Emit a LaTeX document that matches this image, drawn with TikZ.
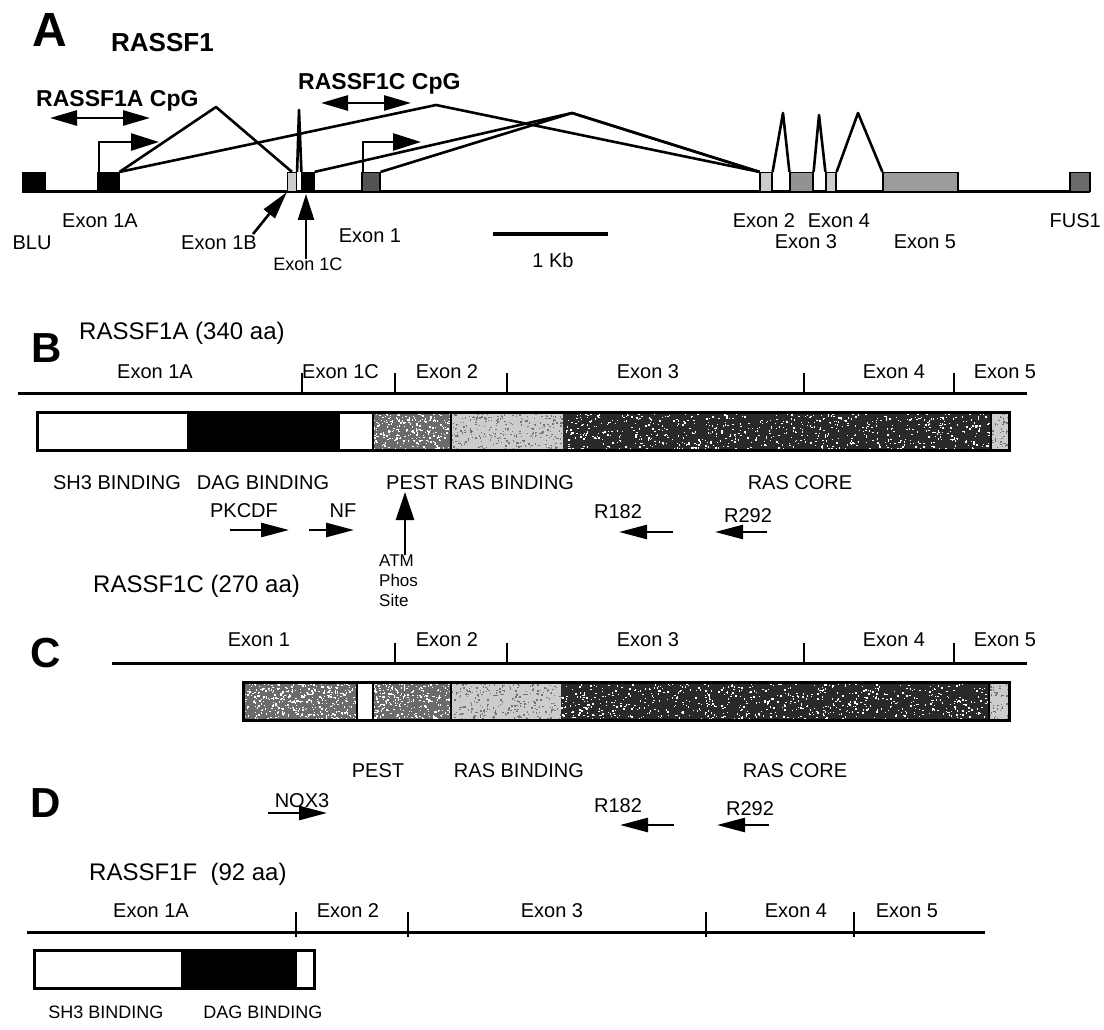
\documentclass[tikz,border=0pt]{standalone}
\usepackage{fontspec}
\setmainfont{Liberation Sans}
\usetikzlibrary{arrows.meta}
\definecolor{lightst}{gray}{0.80}
\definecolor{medst}{gray}{0.42}
\definecolor{darkst}{gray}{0.16}
\newcommand{\mystipple}[6]{%
  \pgfmathsetseed{#6}%
  \foreach \i in {1,...,#5} {%
    \pgfmathsetmacro{\sx}{#1+rnd*(#3-#1-1.4)}%
    \pgfmathsetmacro{\sy}{#2+rnd*(#4-#2-1.4)}%
    \fill[dotcol] (\sx,\sy) rectangle ++(1.4,1.4);%
  }}
\begin{document}
\begin{tikzpicture}[x=1pt,y=-1pt,
  lbl/.style={inner sep=0pt, anchor=base, font=\fontsize{20}{22}\selectfont},
  small/.style={inner sep=0pt, anchor=base, font=\fontsize{18}{20}\selectfont},
  ttl/.style={inner sep=0pt, anchor=base west, font=\fontsize{24}{26}\selectfont},
  biglet/.style={inner sep=0pt, anchor=base, font=\bfseries\fontsize{42}{42}\selectfont},
  cpg/.style={inner sep=0pt, anchor=base west, font=\bfseries\fontsize{23}{25}\selectfont},
  ebox/.style={draw, line width=1.2pt, inner sep=0pt, minimum height=19pt},
  gline/.style={line width=3pt},
  spl/.style={line width=2.6pt, line join=round},
  tickmark/.style={line width=2.4pt},
  barframe/.style={draw, line width=3pt},
  sep/.style={line width=2.2pt},
  fat/.style={line width=2.6pt, -{Triangle[length=28pt,width=14pt]}},
  prom/.style={line width=2.6pt, -{Triangle[length=28pt,width=17pt]}},
  dbl/.style={line width=2.6pt, {Triangle[length=27pt,width=15pt]}-{Triangle[length=27pt,width=15pt]}},
  vup/.style={line width=2.6pt, -{Triangle[length=26pt,width=16pt]}},
  dotcol/.style={fill=white}
]
\useasboundingbox (0,0) rectangle (1104,1030);

%================ Panel A =================
\node[biglet, font=\bfseries\fontsize{48}{48}\selectfont] (labA) at (50,47) {A};
\node[inner sep=0pt, anchor=base west, font=\bfseries\fontsize{26}{28}\selectfont] (rassf1) at (111,52) {RASSF1};
\node[cpg] (cpgA) at (36,107) {RASSF1A CpG};
\node[cpg] (cpgC) at (298,90) {RASSF1C CpG};
\coordinate (dAl) at (50,118); \coordinate (dAr) at (150,118);
\coordinate (dCl) at (321,103); \coordinate (dCr) at (411,103);
\draw[dbl] (dAl) -- (dAr);
\draw[dbl] (dCl) -- (dCr);

% gene baseline
\coordinate (gL) at (22,192); \coordinate (gR) at (1090,192);
\draw[gline] (gL) -- (gR);

% exon boxes
\node[ebox, fill=black, minimum width=22pt] (blu) at (34,182) {};
\node[ebox, fill=black, minimum width=21pt] (e1A) at (108.5,182) {};
\node[ebox, fill=lightst, minimum width=9pt] (e1B) at (292,182) {};
\node[ebox, fill=black, minimum width=12pt] (e1C) at (308,182) {};
\node[ebox, fill=darkst!80!white, minimum width=18pt] (e1) at (371,182) {};
\node[ebox, fill=lightst, minimum width=12pt] (e2) at (766,182) {};
\node[ebox, fill=medst!60!lightst, minimum width=23pt] (e3) at (801.5,182) {};
\node[ebox, fill=lightst, minimum width=10pt] (e4) at (831,182) {};
\node[ebox, fill=medst!50!lightst, minimum width=75pt] (e5) at (920.5,182) {};
\node[ebox, fill=medst, minimum width=20pt] (fus) at (1080,182) {};

% splice lines
\coordinate (p1) at (216,107);
\coordinate (p2) at (436,105);
\coordinate (p3) at (572,113);
\coordinate (pc) at (299,110);
\coordinate (p23) at (783,113);
\coordinate (p34) at (819,115);
\coordinate (p45) at (858,113);
\draw[spl] (e1A.north east) -- (p1) -- (e1B.north);
\draw[spl] (e1B.north east) -- (pc) -- (e1C.north west);
\draw[spl] (e1A.north east) -- (p2) -- (e2.north west);
\draw[spl] (e1C.north east) -- (p3) -- (e2.north west);
\draw[spl] (e1.north east) -- (p3) -- (e2.north west);
\draw[spl] (e2.north east) -- (p23) -- (e3.north west);
\draw[spl] (e3.north east) -- (p34) -- (e4.north west);
\draw[spl] (e4.north east) -- (p45) -- (e5.north west);

% promoter arrows
\coordinate (prA) at (159,142);
\coordinate (pr1) at (421,142);
\draw[prom] ([xshift=1.5pt]e1A.north west) |- (prA);
\draw[prom] ([xshift=1.5pt]e1.north west) |- (pr1);

% labels
\node[lbl] (l1A) at (100,227) {Exon 1A};
\node[lbl] (lblu) at (32,250) {BLU};
\node[lbl] (l1B) at (219,250) {Exon 1B};
\node[small] (l1C) at (308,270) {Exon 1C};
\node[lbl] (l1) at (370,243) {Exon 1};
\draw[fat] ([xshift=-4pt,yshift=2pt]l1B.north east) -- (e1B.south west);
\coordinate (c1Ct) at (306,194);
\draw[vup] ([yshift=-2pt]l1C.north -| c1Ct) -- (c1Ct);

\coordinate (sbL) at (493,234); \coordinate (sbR) at (608,234);
\draw[line width=4pt] (sbL) -- (sbR);
\node[lbl] (kb) at (553,267) {1 Kb};

\node[lbl] (l2) at (764,227) {Exon 2};
\node[lbl] (l4) at (839,227) {Exon 4};
\node[lbl] (l3) at (806,248) {Exon 3};
\node[lbl] (l5) at (925,248) {Exon 5};
\node[lbl, anchor=base east] (lfus) at (1101,227) {FUS1};

%================ Panel B =================
\node[biglet] (labB) at (47,362) {B};
\node[ttl] (tB) at (79,339) {RASSF1A (340 aa)};
\draw[gline] (18,393) -- (1027,393);
\foreach \x in {302,395,507,804,954} \draw[tickmark] (\x,373) -- (\x,394);
\node[lbl] at (155,378) {Exon 1A};
\node[lbl, anchor=base west] at (302,378) {Exon 1C};
\node[lbl] at (447,378) {Exon 2};
\node[lbl] at (648,378) {Exon 3};
\node[lbl] at (894,378) {Exon 4};
\node[lbl] at (1005,378) {Exon 5};

\fill[white] (37,412) rectangle (187,450);
\fill[black] (187,412) rectangle (340,450);
\fill[medst] (373,412) rectangle (451,450);
\fill[lightst] (451,412) rectangle (563,450);
\fill[darkst] (563,412) rectangle (991,450);
\fill[lightst] (991,412) rectangle (1009,450);
\mystipple{373}{412}{451}{450}{260}{11}
\mystipple{563}{412}{991}{450}{700}{12}
\begin{scope}[dotcol/.style={fill=black!55}]
\mystipple{451}{412}{563}{450}{260}{13}
\mystipple{991}{412}{1009}{450}{40}{14}
\end{scope}
\draw[sep] (373,412) -- (373,450);
\draw[sep] (451,412) -- (451,450);
\draw[sep] (991,412) -- (991,450);
\draw[barframe] (37,412) rectangle (1009,450);

\node[lbl] at (117,489) {SH3 BINDING};
\node[lbl] at (263,489) {DAG BINDING};
\node[lbl, anchor=base west] (pestB) at (386,489) {PEST RAS BINDING};
\node[lbl] at (800,489) {RAS CORE};
\node[lbl] (pkc) at (244,517) {PKCDF};
\node[lbl] (nf) at (343,517) {NF};
\draw[fat] (230,530) -- (289,530);
\draw[fat] (309,530) -- (354,530);
\node[lbl] (r182b) at (618,518) {R182};
\node[lbl] (r292b) at (748,522) {R292};
\draw[fat] (673,532) -- (619,532);
\draw[fat] (767,532) -- (715,532);

\node[inner sep=0pt, anchor=north west, align=left, font=\fontsize{17}{20}\selectfont] (atm) at (379,555) {ATM\\Phos\\Site};
\coordinate (atmtip) at (405,492);
\draw[line width=2.6pt, -{Triangle[length=28pt,width=18pt]}] (atm.north -| atmtip) -- (atmtip);

\node[ttl] (tC) at (93,592) {RASSF1C (270 aa)};

%================ Panel C =================
\node[biglet] (labC) at (46,667) {C};
\draw[gline] (112,663) -- (1027,663);
\foreach \x in {395,507,804,954} \draw[tickmark] (\x,643) -- (\x,664);
\node[lbl] at (259,646) {Exon 1};
\node[lbl] at (447,646) {Exon 2};
\node[lbl] at (648,646) {Exon 3};
\node[lbl] at (894,646) {Exon 4};
\node[lbl] at (1005,646) {Exon 5};

\fill[medst] (243,682) rectangle (357,720);
\fill[white] (357,682) rectangle (373,720);
\fill[medst] (373,682) rectangle (451,720);
\fill[lightst] (451,682) rectangle (561,720);
\fill[darkst] (561,682) rectangle (989,720);
\fill[lightst] (989,682) rectangle (1009,720);
\mystipple{243}{682}{357}{720}{380}{21}
\mystipple{373}{682}{451}{720}{260}{22}
\mystipple{561}{682}{989}{720}{700}{23}
\begin{scope}[dotcol/.style={fill=black!55}]
\mystipple{451}{682}{561}{720}{260}{24}
\mystipple{989}{682}{1009}{720}{40}{25}
\end{scope}
\draw[sep] (357,682) -- (357,720);
\draw[sep] (373,682) -- (373,720);
\draw[sep] (451,682) -- (451,720);
\draw[sep] (989,682) -- (989,720);
\draw[barframe] (243,682) rectangle (1009,720);

\node[lbl] at (378,777) {PEST};
\node[lbl] at (519,777) {RAS BINDING};
\node[lbl] at (795,777) {RAS CORE};
\node[lbl] (r182c) at (618,812) {R182};
\node[lbl] (r292c) at (750,815) {R292};
\draw[fat] (674,825) -- (620,825);
\draw[fat] (769,825) -- (717,825);

%================ Panel D =================
\node[biglet] (labD) at (46,817) {D};
\node[lbl] (nox) at (302,807) {NOX3};
\draw[fat] (268,813) -- (327,813);
\node[ttl] (tF) at (89,880) {RASSF1F\ \ (92 aa)};
\draw[gline] (27,932) -- (985,932);
\foreach \x in {296,408,706,854} \draw[tickmark] (\x,912) -- (\x,937);
\node[lbl] at (151,917) {Exon 1A};
\node[lbl] at (348,917) {Exon 2};
\node[lbl] at (552,917) {Exon 3};
\node[lbl] at (796,917) {Exon 4};
\node[lbl] at (907,917) {Exon 5};

\fill[white] (34,950) rectangle (181,988);
\fill[black] (181,950) rectangle (296,988);
\draw[sep] (296,950) -- (296,988);
\draw[barframe] (34,950) rectangle (314,988);
\node[small] at (106,1018) {SH3 BINDING};
\node[small] at (263,1018) {DAG BINDING};
\end{tikzpicture}
\end{document}
